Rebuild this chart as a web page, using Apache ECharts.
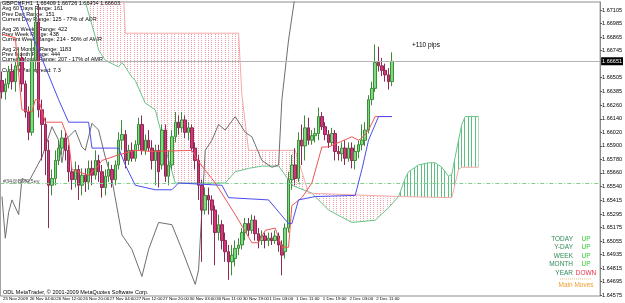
<!DOCTYPE html>
<html>
<head>
<meta charset="utf-8">
<script src="https://cdn.jsdelivr.net/npm/echarts@6/dist/echarts.min.js"></script>
<style>
  html, body { margin: 0; background: #fff; }
  #chart { width: 625px; height: 303px; }
</style>
</head>
<body>
<div id="chart"></div>
<script>
// GBPCHF H1 with ichimoku, 25 Nov - 2 Dec 2009

// [open, close, low, high]
const candles = [
  [1.6648,1.6638,1.6632,1.6656],[1.6638,1.6645,1.6631,1.6650],[1.6645,1.6656,1.6641,1.6661],[1.6656,1.6647,1.6640,1.6663],
  [1.6647,1.6661,1.6638,1.6666],[1.6661,1.6668,1.6656,1.6677],[1.6668,1.6645,1.6638,1.6673],[1.6645,1.6620,1.6615,1.6648],
  [1.6620,1.6602,1.6595,1.6625],[1.6602,1.6666,1.6599,1.6684],[1.6666,1.6700,1.6657,1.6712],[1.6700,1.6622,1.6615,1.6716],
  [1.6622,1.6609,1.6577,1.6631],[1.6609,1.6586,1.6564,1.6615],[1.6586,1.6555,1.6517,1.6595],[1.6555,1.6561,1.6546,1.6569],
  [1.6561,1.6577,1.6555,1.6586],[1.6577,1.6588,1.6573,1.6595],[1.6588,1.6597,1.6582,1.6604],[1.6597,1.6586,1.6577,1.6602],
  [1.6586,1.6567,1.6558,1.6591],[1.6567,1.6560,1.6551,1.6573],[1.6560,1.6569,1.6553,1.6576],[1.6569,1.6555,1.6542,1.6573],
  [1.6555,1.6564,1.6546,1.6570],[1.6564,1.6558,1.6549,1.6570],[1.6558,1.6570,1.6551,1.6577],[1.6570,1.6564,1.6555,1.6577],
  [1.6564,1.6577,1.6560,1.6586],[1.6577,1.6567,1.6558,1.6582],[1.6567,1.6553,1.6544,1.6573],[1.6553,1.6563,1.6546,1.6569],
  [1.6563,1.6569,1.6558,1.6576],[1.6569,1.6560,1.6553,1.6573],[1.6560,1.6573,1.6555,1.6577],[1.6573,1.6595,1.6569,1.6602],
  [1.6595,1.6600,1.6586,1.6613],[1.6600,1.6577,1.6570,1.6604],[1.6577,1.6586,1.6573,1.6591],[1.6586,1.6579,1.6576,1.6593],
  [1.6579,1.6591,1.6576,1.6595],[1.6591,1.6609,1.6586,1.6615],[1.6609,1.6586,1.6582,1.6617],[1.6586,1.6595,1.6582,1.6600],
  [1.6595,1.6588,1.6585,1.6604],[1.6588,1.6577,1.6569,1.6595],[1.6577,1.6586,1.6555,1.6591],[1.6586,1.6567,1.6553,1.6591],
  [1.6573,1.6604,1.6569,1.6609],[1.6604,1.6563,1.6558,1.6609],[1.6563,1.6573,1.6555,1.6586],[1.6573,1.6598,1.6569,1.6604],
  [1.6598,1.6611,1.6593,1.6620],[1.6611,1.6606,1.6600,1.6617],[1.6606,1.6613,1.6602,1.6620],[1.6613,1.6602,1.6597,1.6617],
  [1.6602,1.6606,1.6595,1.6611],[1.6606,1.6588,1.6585,1.6609],[1.6588,1.6577,1.6569,1.6593],[1.6577,1.6555,1.6542,1.6582],
  [1.6555,1.6533,1.6487,1.6560],[1.6533,1.6546,1.6529,1.6553],[1.6546,1.6542,1.6529,1.6553],[1.6542,1.6533,1.6520,1.6546],
  [1.6533,1.6513,1.6484,1.6537],[1.6513,1.6520,1.6506,1.6529],[1.6520,1.6506,1.6498,1.6524],[1.6506,1.6496,1.6487,1.6513],
  [1.6496,1.6487,1.6471,1.6502],[1.6487,1.6493,1.6475,1.6502],[1.6490,1.6499,1.6483,1.6506],[1.6499,1.6502,1.6493,1.6508],
  [1.6502,1.6513,1.6498,1.6517],[1.6513,1.6521,1.6506,1.6526],[1.6521,1.6515,1.6510,1.6526],[1.6515,1.6524,1.6512,1.6529],
  [1.6524,1.6512,1.6506,1.6528],[1.6512,1.6506,1.6499,1.6517],[1.6506,1.6510,1.6502,1.6515],[1.6510,1.6506,1.6499,1.6513],
  [1.6506,1.6508,1.6501,1.6513],[1.6508,1.6506,1.6502,1.6513],[1.6506,1.6510,1.6503,1.6515],[1.6510,1.6502,1.6496,1.6513],
  [1.6502,1.6493,1.6475,1.6506],[1.6496,1.6517,1.6490,1.6521],[1.6517,1.6560,1.6513,1.6567],[1.6560,1.6573,1.6551,1.6582],
  [1.6573,1.6561,1.6555,1.6588],[1.6561,1.6595,1.6558,1.6602],[1.6595,1.6590,1.6573,1.6609],[1.6590,1.6606,1.6577,1.6617],
  [1.6606,1.6595,1.6591,1.6615],[1.6595,1.6599,1.6591,1.6604],[1.6599,1.6601,1.6593,1.6606],[1.6601,1.6616,1.6595,1.6624],
  [1.6616,1.6607,1.6604,1.6620],[1.6607,1.6600,1.6595,1.6611],[1.6600,1.6593,1.6588,1.6604],[1.6593,1.6601,1.6590,1.6606],
  [1.6601,1.6585,1.6577,1.6604],[1.6585,1.6583,1.6577,1.6590],[1.6583,1.6588,1.6576,1.6593],[1.6588,1.6579,1.6573,1.6595],
  [1.6579,1.6588,1.6576,1.6593],[1.6588,1.6577,1.6570,1.6593],[1.6577,1.6585,1.6569,1.6591],[1.6585,1.6591,1.6579,1.6595],
  [1.6591,1.6595,1.6586,1.6609],[1.6595,1.6604,1.6590,1.6611],[1.6604,1.6631,1.6601,1.6635],[1.6631,1.6641,1.6626,1.6647],
  [1.6641,1.6664,1.6638,1.6680],[1.6664,1.6661,1.6656,1.6678],[1.6661,1.6657,1.6652,1.6668],[1.6657,1.6653,1.6647,1.6663],
  [1.6653,1.6647,1.6640,1.6659],[1.6647,1.66651,1.6643,1.6673]
];
const LAST_BAR = candles.length - 1;

// [bar index, price] vertices of each indicator line
const tenkan = [[0,1.6689],[4,1.6686],[6,1.6622],[9,1.6620],[10,1.6631],[11,1.6631],[13,1.6611],[18,1.6611],[20,1.6595],
  [21,1.6569],[26,1.6564],[28,1.6569],[30,1.6577],[35,1.6582],[40,1.6586],[45,1.6585],[57,1.6586],[59,1.6576],[64,1.6557],
  [70,1.6529],[75,1.6504],[77,1.6504],[79,1.6515],[82,1.6517],[84,1.6500],[86,1.6500],[87,1.6537],[90,1.6544],[93,1.6557],
  [96,1.6589],[98,1.6589],[105,1.6598],[107,1.6595],[108,1.6597],[110,1.6604],[112,1.6616],[117,1.6616]];
const kijun = [[5,1.6718],[17,1.6631],[20,1.6611],[26,1.6611],[27,1.6588],[35,1.6588],[37,1.6573],[40,1.6555],[46,1.6551],
  [51,1.6551],[53,1.6557],[66,1.6555],[68,1.6544],[80,1.6542],[86,1.6521],[87,1.6521],[89,1.6542],[94,1.6545],[106,1.6546],
  [108,1.6569],[110,1.6595],[113,1.6616],[117,1.6616]];
const chikou = [[0,1.6545],[1,1.6508],[2,1.6531],[3,1.6542],[5,1.6529],[6,1.6561],[8,1.6558],[12,1.6580],[15,1.6607],
  [17,1.6595],[18,1.6575],[19,1.6595],[22,1.6604],[24,1.6589],[25,1.6586],[27,1.6610],[29,1.6604],[31,1.6580],[33,1.6560],
  [36,1.6511],[39,1.6498],[42,1.6474],[44,1.6498],[47,1.6522],[51,1.6520],[54,1.6498],[58,1.6467],[59,1.6480],[61,1.6586],
  [63,1.6595],[65,1.6609],[67,1.6604],[70,1.6616],[73,1.6602],[75,1.6598],[78,1.6577],[81,1.6571],[83,1.6573],[84,1.6631],
  [86,1.6684],[88,1.6724]];
const spanA = [[22,1.6728],[25,1.6718],[28,1.6687],[29,1.6675],[31,1.6666],[35,1.6660],[36,1.6664],[37,1.6660],[39,1.6651],
  [40,1.6648],[43,1.6628],[46,1.6622],[49,1.6588],[52,1.6557],[67,1.6557],[70,1.6567],[74,1.6570],[78,1.6572],[83,1.6572],
  [85,1.6564],[87,1.6555],[93,1.6548],[98,1.6533],[105,1.6522],[112,1.6524],[116,1.6535],[119,1.6545],[121,1.6561],
  [122,1.6567],[125,1.6573],[128,1.6575],[130,1.6575],[132,1.6571],[134,1.6563],[135,1.6565],[137,1.6595],[138,1.6609],
  [139,1.6616],[143,1.6616]];
const spanB = [[0,1.6755],[36,1.6755],[37,1.6690],[71,1.6690],[72,1.6635],[74,1.6586],[88,1.6586],[92,1.6548],[110,1.6546],
  [119,1.6545],[135,1.6544],[137,1.6569],[138,1.6571],[143,1.6571]];
const CROSS = 119;

const priceTicks = [1.64575,1.64695,1.64815,1.64935,1.65055,1.65175,1.65295,1.65415,1.65540,1.65660,1.65780,
  1.65900,1.66020,1.66140,1.66260,1.66385,1.66505,1.66745,1.66865,1.66985,1.67105];
const lastPrice = 1.66651;
const levelPrice = 1.6557;
const levelName = '#34@BM0,5ev';

const infoLines = [
  ['GBPCHF,H1  1.66409 1.66726 1.66454 1.66603', 3],
  ['Avg 60 Days Range: 161', 8], ['Prev Day Range: 151', 14], ['Current Day Range: 125 - 77% of ADR', 19],
  ['Avg 26 Weeks Range: 422', 29], ['Prev Week Range: 438', 34], ['Current Week Range: 214 - 50% of AWR', 39],
  ['Avg 24 Months Range: 1183', 49], ['Prev Month Range: 444', 54], ['Current Month Range: 207 - 17% of AMR', 59],
  ['Current Pair spread: 7.3', 70]
];
const trendRows = [['TODAY', 'UP'], ['Y-DAY', 'UP'], ['WEEK', 'UP'], ['MONTH', 'UP'], ['YEAR', 'DOWN']];

// hourly slots, forex week (closed Sat and Sun until 23:00)
const SLOTS = 180;
const MONTHS = ['Jan','Feb','Mar','Apr','May','Jun','Jul','Aug','Sep','Oct','Nov','Dec'];
function hourSlots() {
  const out = [];
  let t = Date.UTC(2009, 10, 25, 20);
  while (out.length < SLOTS) {
    const d = new Date(t), wd = d.getUTCDay(), h = d.getUTCHours();
    if (!(wd === 6 || (wd === 0 && h < 23))) {
      const day = d.getUTCDate() + ' ' + MONTHS[d.getUTCMonth()];
      out.push(out.length === 0 ? day + ' ' + d.getUTCFullYear() : day + ' ' + String(h).padStart(2, '0') + ':00');
    }
    t += 3600000;
  }
  return out;
}
const categories = hourSlots();

const FONT = 'Liberation Sans';

function hatch(color, solid) {
  const c = document.createElement('canvas');
  c.width = 27; c.height = 2;
  const g = c.getContext('2d');
  g.fillStyle = color;
  for (let k = 0; k < 8; k++) {
    const x = Math.round(k * 3.375);
    g.fillRect(x, 0, 1, 1);
    if (solid) g.fillRect(x, 1, 1, 1);
  }
  return c;
}

function cloud(points, color, solid) {
  const img = hatch(color, solid);
  return {
    type: 'custom', silent: true, z: 1,
    data: [[0, 0]],
    renderItem: (params, api) => ({
      type: 'group',
      clipPath: { type: 'rect', shape: { x: params.coordSys.x, y: params.coordSys.y, width: params.coordSys.width, height: params.coordSys.height } },
      children: [{ type: 'polygon', shape: { points: points.map(p => api.coord(p)) }, style: { fill: { image: img, repeat: 'repeat', x: 2 } } }]
    })
  };
}

function line(data, color, z) {
  return { type: 'line', data: data, symbol: 'none', silent: true, z: z || 3, lineStyle: { color: color, width: 1 } };
}

const pinkCloud = spanA.filter(p => p[0] <= CROSS).concat(spanB.filter(p => p[0] <= CROSS).reverse());
const greenCloud = spanA.filter(p => p[0] >= CROSS).concat(spanB.filter(p => p[0] >= CROSS).reverse());

const texts = [];
infoLines.forEach(([t, y]) => texts.push({ type: 'text', left: 2, top: y - 3, style: { text: t, font: '5.5px ' + FONT, fill: '#000' } }));
trendRows.forEach(([k, v], i) => {
  const y = 239 + i * 8.5;
  texts.push({ type: 'text', x: 573, y: y, style: { text: k, font: '6.5px ' + FONT, fill: '#2e8b57', align: 'right', verticalAlign: 'middle' } });
  texts.push({ type: 'text', x: 586, y: y, style: { text: v, font: '6.5px ' + FONT, fill: v === 'UP' ? '#33cc33' : '#e8304a', align: 'center', verticalAlign: 'middle' } });
});
texts.push({ type: 'line', shape: { x1: 560, y1: 279, x2: 592, y2: 279 }, style: { stroke: '#f0c080', lineDash: [1, 1], lineWidth: 1 } });
texts.push({ type: 'text', x: 576, y: 285, style: { text: 'Main Moves', font: '6.5px ' + FONT, fill: '#f0a030', align: 'center', verticalAlign: 'middle' } });
texts.push({ type: 'text', x: 412, y: 45, style: { text: '+110 pips', font: '6.5px ' + FONT, fill: '#000', verticalAlign: 'middle' } });
texts.push({ type: 'text', x: 3, y: 181, style: { text: levelName, font: '5.5px ' + FONT, fill: '#555', verticalAlign: 'middle' } });
texts.push({ type: 'text', x: 3, y: 292, style: { text: 'ODL MetaTrader, \u00a9 2001-2009 MetaQuotes Software Corp.', font: '5.5px ' + FONT, fill: '#000', verticalAlign: 'middle' } });

const kijunSeries = line(kijun, '#4b4bf0', 5);
kijunSeries.markLine = {
  silent: true, symbol: 'none', animation: false, precision: 5,
  data: [
    { yAxis: lastPrice, lineStyle: { color: '#b4b4b4', type: 'solid', width: 1 },
      label: { position: 'end', distance: 1, formatter: p => Number(p.value).toFixed(5), backgroundColor: '#000', color: '#fff', fontSize: 5.5, fontFamily: FONT, padding: [1, 1] } },
    { yAxis: levelPrice, lineStyle: { color: '#7cd08c', type: [4, 2, 1, 2], width: 1 }, label: { show: false } }
  ]
};

const chart = echarts.init(document.getElementById('chart'), null, { renderer: 'canvas' });
chart.setOption({
  animation: false,
  backgroundColor: '#fff',
  grid: { left: 0, right: 16, top: 2, bottom: 7, show: true, borderColor: '#8c8c8c', borderWidth: 1 },
  xAxis: {
    type: 'category', data: categories, boundaryGap: true,
    axisLine: { show: false },
    axisTick: { interval: 7, alignWithLabel: true, length: 2, lineStyle: { color: '#555' } },
    axisLabel: {
      interval: 7, showMinLabel: true, hideOverlap: false, fontSize: 4.4, fontFamily: FONT, color: '#000', align: 'left', margin: 1, padding: [0, 0, 0, 1],
      formatter: (v, i) => (i <= LAST_BAR ? v : '')
    },
    splitLine: { show: false }
  },
  yAxis: {
    type: 'value', position: 'right', min: 1.64567, max: 1.67177,
    axisLine: { show: true, lineStyle: { color: '#8c8c8c' } },
    axisTick: { show: true, length: 2, customValues: priceTicks, lineStyle: { color: '#555' } },
    axisLabel: { customValues: priceTicks, fontSize: 5.5, fontFamily: FONT, color: '#000', margin: 2, formatter: v => v.toFixed(5) },
    splitLine: { show: false }
  },
  graphic: texts,
  series: [
    cloud(pinkCloud, '#f3a2aa', false),
    cloud(greenCloud, '#5cbf80', true),
    line(spanA, '#66c488', 2),
    line(spanB, '#f4a8a8', 2),
    {
      type: 'candlestick', data: candles, barWidth: 3, z: 4, silent: true,
      itemStyle: { color: '#7ddc7d', color0: '#d8327a', borderColor: '#3c8c3c', borderColor0: '#8a2a55', borderWidth: 1 }
    },
    line(tenkan, '#f05555', 5),
    kijunSeries,
    line(chikou, '#6e6e6e', 3)
  ]
});
</script>
</body>
</html>
